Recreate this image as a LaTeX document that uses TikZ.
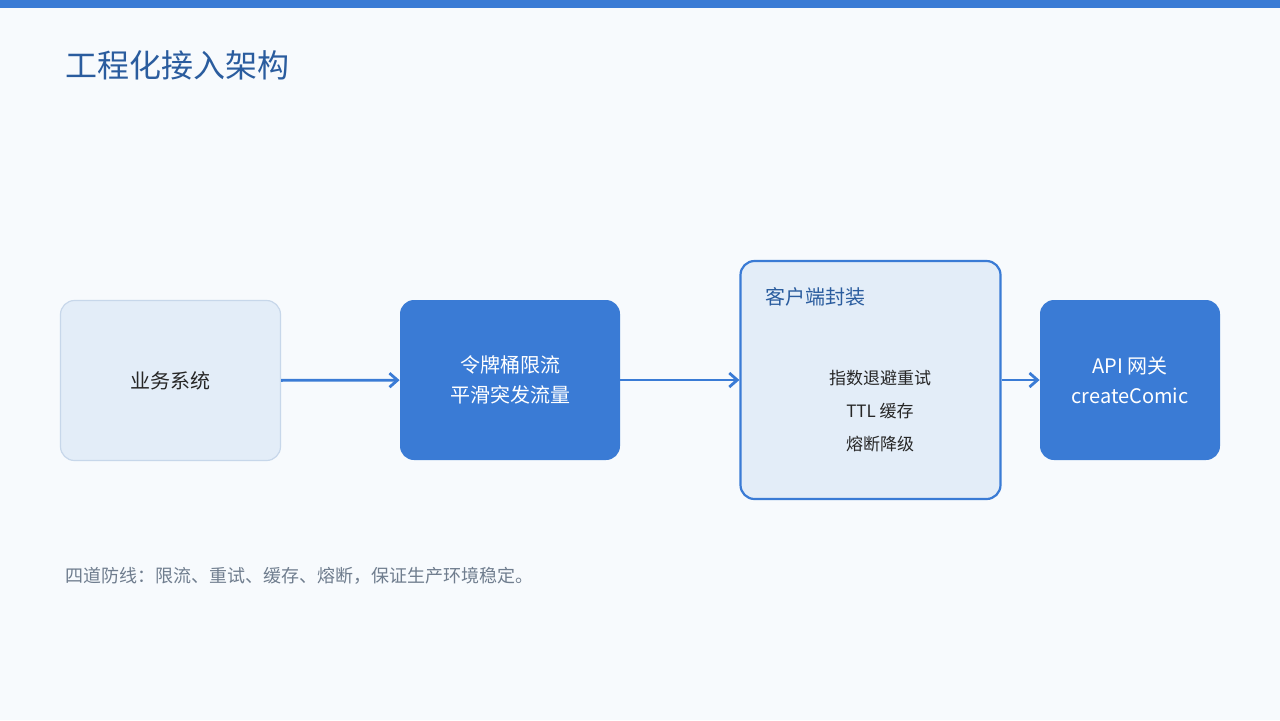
\documentclass[tikz,border=0pt]{standalone}
\usepackage{fontspec}
\setmainfont{Noto Sans CJK SC}
\usetikzlibrary{arrows.meta, positioning}
\definecolor{mainblue}{HTML}{3A7BD5}
\definecolor{titleblue}{HTML}{2A5C9E}
\definecolor{paleblue}{HTML}{E3EDF8}
\definecolor{paleline}{HTML}{C7D7EA}
\definecolor{bgcol}{HTML}{F7FAFD}
\definecolor{textgrey}{HTML}{6F7D8E}
\tikzstyle{block} = [rectangle, rounded corners=7pt, align=center, font=\fontsize{10}{15}\selectfont]
\tikzstyle{soft} = [block, fill=paleblue, draw=paleline, line width=0.6pt, text=black!85]
\tikzstyle{solid} = [block, fill=mainblue, text=white]
\tikzstyle{group} = [block, fill=paleblue, draw=mainblue, line width=1.1pt]
\tikzstyle{path} = [-{Straight Barb[length=4pt, width=7pt]}, mainblue, line width=1.4pt]

\begin{document}
\begin{tikzpicture}[x=0.5pt, y=-0.5pt]
    \useasboundingbox (0,0) rectangle (1280,720);
    \fill [bgcol] (0,0) rectangle (1280,720);
    \fill [mainblue] (0,0) rectangle (1280,8);
    \node (title) [anchor=west, text=titleblue, font=\fontsize{16}{20}\selectfont] at (58,65) {工程化接入架构};

    \node (biz) [soft, minimum width=110pt, minimum height=80pt] at (170.5,380.5) {业务系统};
    \node (bucket) [solid, minimum width=110pt, minimum height=80pt] at (510,380) {令牌桶限流\\平滑突发流量};
    \node (client) [group, minimum width=130pt, minimum height=119pt] at (870.5,380) {};
    \node (client title) [anchor=west, text=titleblue, font=\fontsize{10}{12}\selectfont] at (758,297) {客户端封装};
    \node (client body) [align=center, text=black!85, font=\fontsize{8.5}{16.5}\selectfont] at (880,411) {指数退避重试\\TTL 缓存\\熔断降级};
    \node (api) [solid, minimum width=90pt, minimum height=80pt] at (1130,380) {API 网关\\createComic};

    \node (footer) [anchor=west, text=textgrey, font=\fontsize{9}{11}\selectfont] at (58,576) {四道防线：限流、重试、缓存、熔断，保证生产环境稳定。};

    % Arrows.
    \draw [path] (biz) -- (bucket);
    \draw [path] (bucket) -- (client);
    \draw [path] (client) -- (api);
\end{tikzpicture}
\end{document}
